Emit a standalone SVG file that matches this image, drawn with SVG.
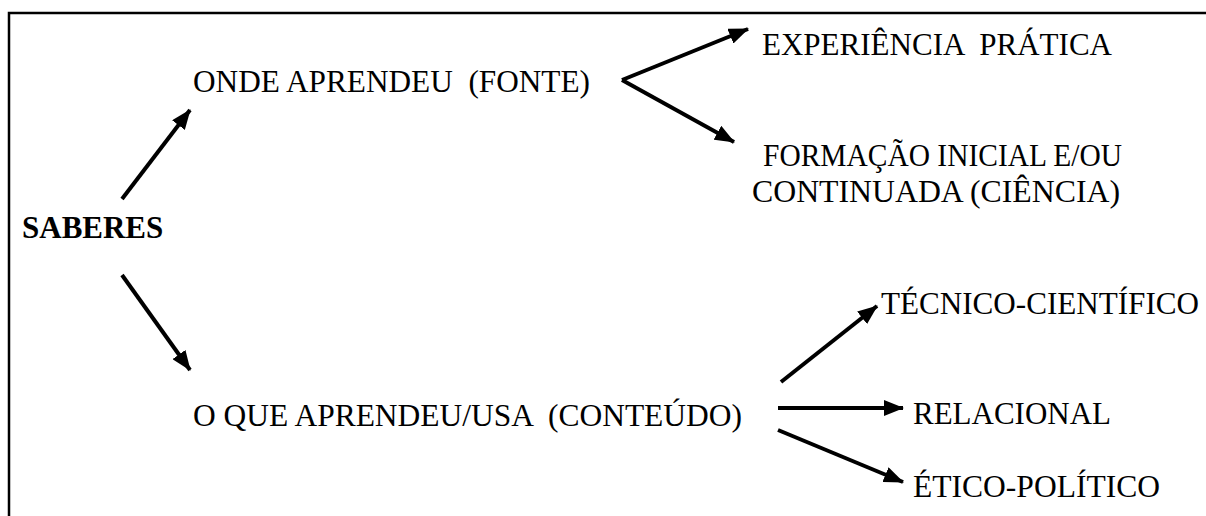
<svg xmlns="http://www.w3.org/2000/svg" width="1206" height="516" viewBox="0 0 1206 516">
<defs>
<marker id="ah" markerUnits="userSpaceOnUse" markerWidth="20" markerHeight="16" viewBox="0 0 20 16" refX="19" refY="8" orient="auto">
<path d="M0,0 L20,8 L0,16 Z" fill="#000"/>
</marker>
</defs>
<style>
text{font-family:"Liberation Serif","Times New Roman",serif;font-size:31px;fill:#000}
.b{font-weight:bold}
.c{stroke:#000;stroke-width:4;fill:none;marker-end:url(#ah)}
</style>
<rect x="0" y="0" width="1206" height="516" fill="#fff"/>
<path d="M9,530 L9,13 L1220,13" fill="none" stroke="#000" stroke-width="2.5"/>
<g id="saberes"><text class="b" x="22" y="238">SABERES</text></g>
<g id="onde"><text x="193" y="92" xml:space="preserve" textLength="397" lengthAdjust="spacingAndGlyphs">ONDE APRENDEU  (FONTE)</text></g>
<g id="experiencia"><text x="762" y="55" xml:space="preserve" textLength="350" lengthAdjust="spacingAndGlyphs">EXPERIÊNCIA  PRÁTICA</text></g>
<g id="formacao"><text x="763" y="166" textLength="359" lengthAdjust="spacingAndGlyphs">FORMAÇÃO INICIAL E/OU</text><text x="752" y="202" textLength="368" lengthAdjust="spacingAndGlyphs">CONTINUADA (CIÊNCIA)</text></g>
<g id="oque"><text x="193" y="426" xml:space="preserve" textLength="549" lengthAdjust="spacingAndGlyphs">O QUE APRENDEU/USA  (CONTEÚDO)</text></g>
<g id="tecnico"><text x="881" y="314" textLength="318" lengthAdjust="spacingAndGlyphs">TÉCNICO-CIENTÍFICO</text></g>
<g id="relacional"><text x="913" y="424">RELACIONAL</text></g>
<g id="etico"><text x="913" y="497" textLength="247" lengthAdjust="spacingAndGlyphs">ÉTICO-POLÍTICO</text></g>
<g id="connectors">
<line class="c" x1="122" y1="199" x2="190" y2="110"/>
<line class="c" x1="122" y1="275" x2="190" y2="370"/>
<polyline class="c" points="622,80 734,142"/>
<line class="c" x1="622" y1="80" x2="748" y2="29"/>
<line class="c" x1="781" y1="382" x2="877" y2="306"/>
<line class="c" x1="778" y1="408" x2="903" y2="408"/>
<line class="c" x1="778" y1="430" x2="903" y2="482"/>
</g>
</svg>
